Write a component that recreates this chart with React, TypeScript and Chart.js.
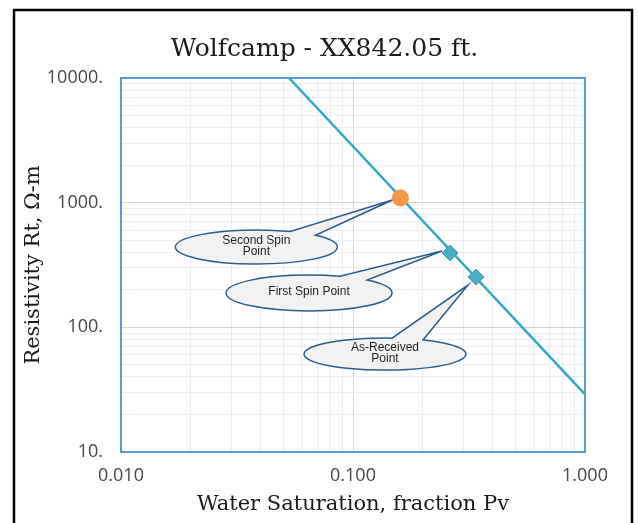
import React, { useEffect, useRef } from "react";
import { Chart, registerables } from "chart.js";

Chart.register(...registerables);

// ---------- data ----------
const TITLE = "Wolfcamp - XX842.05 ft.";
const X_TITLE = "Water Saturation, fraction Pv";
const Y_TITLE = "Resistivity Rt, Ω-m";

// trend line (log-log straight line)
const LINE_SW = [0.053, 1.0];
const LINE_RT = [10000, 29];

// measured points
const POINT_NAMES = ["Second Spin Point", "First Spin Point", "As-Received Point"];
const POINT_SW = [0.16, 0.262, 0.339];
const POINT_RT = [1090, 395, 253];
const CALLOUT_TEXT = [["Second Spin", "Point"], ["First Spin Point"], ["As-Received", "Point"]];

// axes
const X_MIN = 0.01;
const X_MAX = 1;
const Y_MIN = 10;
const Y_MAX = 10000;
const X_MAJOR = [0.01, 0.1, 1];
const X_LABELS = ["0.010", "0.100", "1.000"];
const Y_MAJOR = [10, 100, 1000, 10000];
const Y_LABELS = ["10.", "100.", "1000.", "10000."];
const MINOR_STEPS = [1, 2, 3, 4, 5, 6, 7, 8, 9];

const gridValues = (majors: number[]) => {
  const out: number[] = [];
  for (let i = 0; i < majors.length - 1; i++) {
    for (const s of MINOR_STEPS) out.push(s * majors[i]);
  }
  out.push(majors[majors.length - 1]);
  return out;
};
const X_GRID = gridValues(X_MAJOR);
const Y_GRID = gridValues(Y_MAJOR);

const majorIndex = (majors: number[], v: number) =>
  majors.findIndex((m) => Math.abs(m - v) / m < 1e-6);

// callout geometry (pixels relative to the point / ellipse centre)
const CALLOUT_GEOM = [
  { dx: -144, dy: 49, rx: 81, ry: 17, b1: 34, b2: 59, tx: -8, ty: 2 },
  { dx: -141, dy: 40, rx: 83, ry: 18, b1: 31, b2: 58, tx: -8, ty: -2 },
  { dx: -91, dy: 77, rx: 81, ry: 16, b1: 7, b2: 38, tx: -8, ty: 8 },
];

const framePlugin = {
  id: "frame",
  beforeDraw(chart: any) {
    const ctx = chart.ctx;
    ctx.save();
    ctx.fillStyle = "#ffffff";
    ctx.fillRect(0, 0, chart.width, chart.height);
    ctx.strokeStyle = "#000000";
    ctx.lineWidth = 2.5;
    ctx.strokeRect(14, 10, 618, 530);
    ctx.restore();
  },
  beforeDatasetsDraw(chart: any) {
    const { ctx, chartArea: a } = chart;
    ctx.save();
    ctx.strokeStyle = "#5B9BD5";
    ctx.lineWidth = 2;
    ctx.strokeRect(a.left, a.top, a.right - a.left, a.bottom - a.top);
    ctx.restore();
  },
};

const calloutPlugin = {
  id: "callouts",
  afterDatasetsDraw(chart: any) {
    const { ctx, scales } = chart;
    ctx.save();
    POINT_SW.forEach((sw, i) => {
      const g = CALLOUT_GEOM[i];
      const px = scales.x.getPixelForValue(sw);
      const py = scales.y.getPixelForValue(POINT_RT[i]);
      const cx = px + g.dx;
      const cy = py + g.dy;
      const tipX = px + g.tx;
      const tipY = py + g.ty;
      const t1 = -Math.acos(g.b1 / g.rx);
      const t2 = -Math.acos(g.b2 / g.rx);
      ctx.beginPath();
      ctx.ellipse(cx, cy, g.rx, g.ry, 0, t2, t1 + Math.PI * 2, false);
      ctx.lineTo(tipX, tipY);
      ctx.closePath();
      ctx.fillStyle = "#F2F2F2";
      ctx.fill();
      ctx.strokeStyle = "#2E5C8A";
      ctx.lineWidth = 1.5;
      ctx.stroke();
      const lines = CALLOUT_TEXT[i];
      ctx.fillStyle = "#1f1f1f";
      ctx.font = "12px 'Liberation Sans', Arial, sans-serif";
      ctx.textAlign = "center";
      ctx.textBaseline = "middle";
      const lh = 11.5;
      const start = cy - 1 - ((lines.length - 1) * lh) / 2;
      lines.forEach((t, k) => ctx.fillText(t, cx, start + k * lh));
    });
    ctx.restore();
  },
};

export default function App() {
  const ref = useRef<HTMLCanvasElement | null>(null);

  useEffect(() => {
    if (!ref.current) return;
    const chart = new Chart(ref.current, {
      type: "scatter",
      data: {
        datasets: [
          {
            type: "scatter",
            label: POINT_NAMES[0],
            data: [{ x: POINT_SW[0], y: POINT_RT[0] }],
            pointStyle: "circle",
            pointRadius: 8.5,
            backgroundColor: "#F79646",
            borderColor: "#F79646",
            borderWidth: 0,
            order: 1,
          },
          {
            type: "scatter",
            label: POINT_NAMES[1] + " / " + POINT_NAMES[2],
            data: [
              { x: POINT_SW[1], y: POINT_RT[1] },
              { x: POINT_SW[2], y: POINT_RT[2] },
            ],
            pointStyle: "rectRot",
            pointRadius: 8,
            backgroundColor: "#4BACC6",
            borderColor: "#3F9FBA",
            borderWidth: 1,
            order: 1,
          },
          {
            type: "line",
            label: "Trend",
            data: LINE_SW.map((x, i) => ({ x, y: LINE_RT[i] })),
            borderColor: "#35A8C2",
            borderWidth: 2.5,
            pointRadius: 0,
            showLine: true,
            fill: false,
            tension: 0,
            order: 3,
          },
        ],
      },
      options: {
        animation: false,
        responsive: false,
        events: [],
        layout: { padding: { top: 10, left: 17, right: 7, bottom: 2 } },
        plugins: {
          legend: { display: false },
          tooltip: { enabled: false },
          title: {
            display: true,
            text: TITLE,
            color: "#1a1a1a",
            font: { family: "'DejaVu Serif', serif", size: 25, weight: "normal" },
            padding: { top: 24, bottom: 14 },
          },
        },
        scales: {
          x: {
            type: "logarithmic",
            min: X_MIN,
            max: X_MAX,
            afterBuildTicks: (s: any) => {
              s.ticks = X_GRID.map((v) => ({ value: v }));
            },
            afterFit: (s: any) => {
              s.height = 69;
            },
            ticks: {
              autoSkip: false,
              maxRotation: 0,
              minRotation: 0,
              padding: 13,
              color: "#474747",
              font: { family: "'Open Sans', sans-serif", size: 18 },
              callback: (v: any) => {
                const k = majorIndex(X_MAJOR, Number(v));
                return k >= 0 ? X_LABELS[k] : "";
              },
            },
            grid: {
              drawTicks: false,
              lineWidth: 1,
              color: (c: any) =>
                c.tick && majorIndex(X_MAJOR, c.tick.value) >= 0 ? "#D6D6D6" : "#EDEDED",
            },
            border: { display: false },
            title: {
              display: true,
              text: X_TITLE,
              color: "#1a1a1a",
              font: { family: "'DejaVu Serif', serif", size: 21 },
              padding: { top: 4, bottom: 4 },
            },
          },
          y: {
            type: "logarithmic",
            min: Y_MIN,
            max: Y_MAX,
            afterBuildTicks: (s: any) => {
              s.ticks = Y_GRID.map((v) => ({ value: v }));
            },
            afterFit: (s: any) => {
              s.width = 104;
            },
            ticks: {
              autoSkip: false,
              padding: 18,
              color: "#474747",
              font: { family: "'Open Sans', sans-serif", size: 18 },
              callback: (v: any) => {
                const k = majorIndex(Y_MAJOR, Number(v));
                return k >= 0 ? Y_LABELS[k] : "";
              },
            },
            grid: {
              drawTicks: false,
              lineWidth: 1,
              color: (c: any) =>
                c.tick && majorIndex(Y_MAJOR, c.tick.value) >= 0 ? "#D6D6D6" : "#EDEDED",
            },
            border: { display: false },
            title: {
              display: true,
              text: Y_TITLE,
              color: "#1a1a1a",
              font: { family: "'DejaVu Serif', serif", size: 21 },
              padding: { top: 4, bottom: 4 },
            },
          },
          y2: {
            type: "linear",
            position: "right",
            display: true,
            ticks: { display: false },
            grid: { display: false },
            border: { display: false },
            afterFit: (s: any) => {
              s.width = 47;
            },
          },
        },
      },
      plugins: [framePlugin, calloutPlugin],
    } as any);
    return () => chart.destroy();
  }, []);

  return (
    <div style={{ position: "absolute", left: 0, top: 0, width: 639, height: 523, background: "#fff" }}>
      <canvas ref={ref} width={639} height={523} style={{ display: "block" }} />
    </div>
  );
}
